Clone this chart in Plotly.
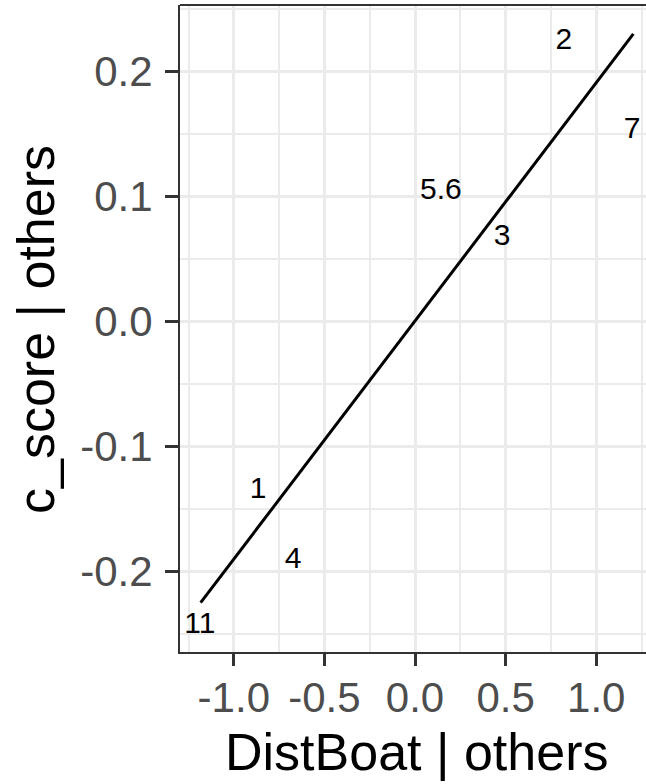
import plotly.graph_objects as go

# ---- data ----
point_labels = ["1", "2", "3", "4", "5.6", "7", "11"]
point_x = [-0.866, 0.822, 0.480, -0.673, 0.143, 1.198, -1.187]
point_y = [-0.135, 0.224, 0.067, -0.191, 0.104, 0.153, -0.243]

fit_x = [-1.183, 1.205]
fit_y = [-0.2248, 0.2302]

x_tick_vals = [-1.0, -0.5, 0.0, 0.5, 1.0]
x_tick_text = ["-1.0", "-0.5", "0.0", "0.5", "1.0"]
y_tick_vals = [-0.2, -0.1, 0.0, 0.1, 0.2]
y_tick_text = ["-0.2", "-0.1", "0.0", "0.1", "0.2"]

x_title = "DistBoat | others"
y_title = "c_score | others"

FONT = "Liberation Sans, Arial, sans-serif"
W, H = 646, 784
ML, MR, MT, MB = 180, 0, 5, 132

fig = go.Figure()
fig.add_trace(go.Scatter(x=fit_x, y=fit_y, mode="lines",
                         line=dict(color="black", width=3),
                         hoverinfo="skip", showlegend=False))
fig.add_trace(go.Scatter(x=point_x, y=point_y, mode="text", text=point_labels,
                         textposition="middle center", cliponaxis=False,
                         textfont=dict(family=FONT, size=30, color="black"),
                         showlegend=False))

grid = "#EBEBEB"
border = "#333333"
fig.update_xaxes(range=[-1.2969, 1.2748], tickvals=x_tick_vals, ticktext=x_tick_text,
                 automargin=False, ticklabelstandoff=-4,
                 showgrid=True, gridcolor=grid, gridwidth=3, zeroline=False,
                 showline=True, linecolor=border, linewidth=2,
                 ticks="outside", ticklen=12, tickwidth=3, tickcolor=border,
                 tickfont=dict(family=FONT, size=42, color="#4D4D4D"),
                 minor=dict(tickvals=[-1.25, -0.75, -0.25, 0.25, 0.75, 1.25],
                            showgrid=True, gridcolor=grid, gridwidth=1.5, ticks=""))
fig.update_yaxes(range=[-0.26424, 0.25336], tickvals=y_tick_vals, ticktext=y_tick_text,
                 automargin=False, ticklabelstandoff=4,
                 showgrid=True, gridcolor=grid, gridwidth=3, zeroline=False,
                 showline=True, linecolor=border, linewidth=2,
                 ticks="outside", ticklen=13, tickwidth=3, tickcolor=border,
                 tickfont=dict(family=FONT, size=42, color="#4D4D4D"),
                 minor=dict(tickvals=[-0.25, -0.15, -0.05, 0.05, 0.15, 0.25],
                            showgrid=True, gridcolor=grid, gridwidth=1.5, ticks=""))

pw = W - ML - MR
ph = H - MT - MB
fig.add_shape(type="line", xref="paper", yref="paper", x0=0, x1=1.05, y0=1, y1=1,
              line=dict(color=border, width=2))

fig.add_annotation(text=x_title, xref="paper", yref="paper",
                   x=(416.5 - ML) / pw, y=(652 - 752) / ph,
                   xanchor="center", yanchor="middle", showarrow=False,
                   font=dict(family=FONT, size=52, color="black"))
fig.add_annotation(text=y_title, xref="paper", yref="paper",
                   x=(36 - ML) / pw, y=(652 - 330) / ph, textangle=-90,
                   xanchor="center", yanchor="middle", showarrow=False,
                   font=dict(family=FONT, size=52, color="black"))

fig.update_layout(width=W, height=H, margin=dict(l=ML, r=MR, t=MT, b=MB),
                  plot_bgcolor="white", paper_bgcolor="white", showlegend=False)

fig.write_html("out.html", config={"displayModeBar": False},
               post_script="document.body.style.margin='0px';document.body.style.overflow='hidden';")
